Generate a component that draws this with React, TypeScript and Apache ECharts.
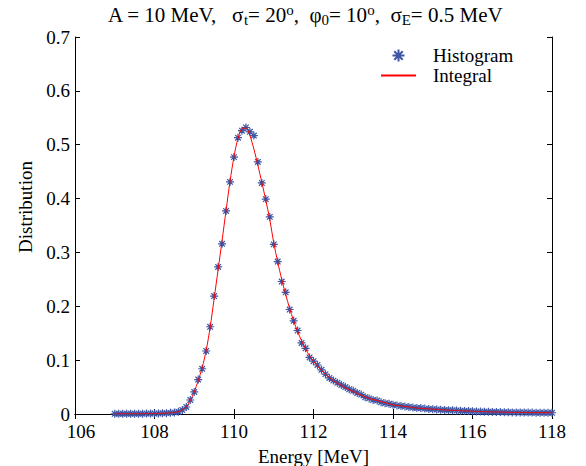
import React, { useEffect, useRef } from 'react';
import * as echarts from 'echarts';

const energies = [
  107.0, 107.1, 107.2, 107.3, 107.4, 107.5, 107.6, 107.7, 107.8, 107.9,
  108.0, 108.1, 108.2, 108.3, 108.4, 108.5, 108.6, 108.7, 108.8, 108.9,
  109.0, 109.1, 109.2, 109.3, 109.4, 109.5, 109.6, 109.7, 109.8, 109.9,
  110.0, 110.1, 110.2, 110.3, 110.4, 110.5, 110.6, 110.7, 110.8, 110.9,
  111.0, 111.1, 111.2, 111.3, 111.4, 111.5, 111.6, 111.7, 111.8, 111.9,
  112.0, 112.1, 112.2, 112.3, 112.4, 112.5, 112.6, 112.7, 112.8, 112.9,
  113.0, 113.1, 113.2, 113.3, 113.4, 113.5, 113.6, 113.7, 113.8, 113.9,
  114.0, 114.1, 114.2, 114.3, 114.4, 114.5, 114.6, 114.7, 114.8, 114.9,
  115.0, 115.1, 115.2, 115.3, 115.4, 115.5, 115.6, 115.7, 115.8, 115.9,
  116.0, 116.1, 116.2, 116.3, 116.4, 116.5, 116.6, 116.7, 116.8, 116.9,
  117.0, 117.1, 117.2, 117.3, 117.4, 117.5, 117.6, 117.7, 117.8, 117.9,
  118.0,
];

const histogram = [
  0.0003, 0.0003, 0.0004, 0.0004, 0.0005, 0.0005, 0.0006, 0.0006, 0.0007, 0.0008,
  0.0009, 0.0011, 0.0013, 0.0016, 0.0021, 0.003, 0.0042, 0.0074, 0.013, 0.026,
  0.041, 0.064, 0.084, 0.117, 0.162, 0.219, 0.273, 0.316, 0.377, 0.431,
  0.477, 0.513, 0.526, 0.532, 0.524, 0.517, 0.468, 0.429, 0.399, 0.366,
  0.315, 0.283, 0.246, 0.226, 0.194, 0.173, 0.155, 0.132, 0.122, 0.105,
  0.098, 0.091, 0.082, 0.074, 0.067, 0.062, 0.058, 0.054, 0.05, 0.046,
  0.043, 0.039, 0.036, 0.031, 0.029, 0.026, 0.025, 0.022, 0.02, 0.019,
  0.017, 0.016, 0.015, 0.014, 0.013, 0.012, 0.011, 0.011, 0.01, 0.0095,
  0.009, 0.0085, 0.008, 0.0075, 0.007, 0.0068, 0.0065, 0.006, 0.0058, 0.0055,
  0.005, 0.0048, 0.0045, 0.0043, 0.004, 0.0038, 0.0036, 0.0035, 0.0033, 0.0032,
  0.003, 0.003, 0.0029, 0.0028, 0.0027, 0.0026, 0.0025, 0.0025, 0.0024, 0.0023,
  0.0023,
];

const integral = [
  0.0003, 0.0003, 0.0004, 0.0004, 0.0005, 0.0005, 0.0006, 0.0006, 0.0007, 0.0008,
  0.0009, 0.0011, 0.0013, 0.0016, 0.0022, 0.0031, 0.0045, 0.0075, 0.0135, 0.025,
  0.041, 0.062, 0.086, 0.118, 0.161, 0.214, 0.268, 0.322, 0.378, 0.432,
  0.478, 0.512, 0.53, 0.531, 0.517, 0.492, 0.462, 0.43, 0.397, 0.361,
  0.318, 0.282, 0.25, 0.222, 0.196, 0.173, 0.153, 0.136, 0.121, 0.108,
  0.098, 0.089, 0.081, 0.074, 0.068, 0.062, 0.057, 0.053, 0.049, 0.045,
  0.042, 0.038, 0.035, 0.032, 0.029, 0.027, 0.025, 0.023, 0.021, 0.019,
  0.017, 0.016, 0.015, 0.014, 0.013, 0.012, 0.011, 0.0105, 0.01, 0.0095,
  0.009, 0.0085, 0.008, 0.0076, 0.0072, 0.0068, 0.0065, 0.0061, 0.0058, 0.0055,
  0.0052, 0.0049, 0.0046, 0.0044, 0.0041, 0.0039, 0.0037, 0.0035, 0.0034, 0.0032,
  0.0031, 0.003, 0.0029, 0.0028, 0.0027, 0.0026, 0.0025, 0.0025, 0.0024, 0.0023,
  0.0023,
];

const seriesNames = ['Histogram', 'Integral'];
const seriesColors = ['#3d57a5', '#ff0000'];
const xRange = { min: 106, max: 118, interval: 2 };
const yRange = { min: 0, max: 0.7, interval: 0.1 };

export default function App() {
  const ref = useRef<HTMLDivElement>(null);
  useEffect(() => {
    if (!ref.current) return;
    const chart = echarts.init(ref.current, null, { renderer: 'svg' });
    const font = "'Liberation Serif', 'Times New Roman', serif";
    const star = 'path://M4,0L4,8M0,4L8,4M1.2,1.2L6.8,6.8M1.2,6.8L6.8,1.2';
    const nb = '\u00a0';
    const axisLine = { show: true, lineStyle: { color: '#000', width: 1 } };
    const tick = { show: true, inside: true, length: 5, lineStyle: { color: '#000' } };
    const label = { fontFamily: font, fontSize: 19, color: '#000', lineHeight: 14 };
    chart.setOption({
      animation: false,
      backgroundColor: '#fff',
      color: seriesColors,
      grid: { left: 75, right: 34, top: 37, bottom: 52, outerBoundsMode: 'none', containLabel: false },
      graphic: [
        {
          type: 'text',
          x: 305,
          y: 15,
          style: {
            text: `A = 10 MeV,${nb}${nb}${nb}σ{sub|t}= 20{sup|o},${nb}${nb}φ{sub|0}= 10{sup|o},${nb}${nb}σ{sub|E}= 0.5 MeV`,
            fontFamily: font,
            fontSize: 21,
            lineHeight: 26,
            fill: '#000',
            align: 'center',
            verticalAlign: 'middle',
            rich: {
              sub: { fontFamily: font, fontSize: 15, lineHeight: 15, padding: [10, 0, 0, 0], fill: '#000' },
              sup: { fontFamily: font, fontSize: 15, lineHeight: 15, padding: [0, 0, 10, 0], fill: '#000' },
            },
          },
        },
      ],
      legend: {
        orient: 'vertical',
        left: 375,
        top: 41,
        itemWidth: 35,
        itemHeight: 12,
        itemGap: 1,
        textStyle: { fontFamily: font, fontSize: 19, color: '#000', padding: [0, 0, 0, 12] },
        data: [
          { name: seriesNames[0], icon: star },
          { name: seriesNames[1], itemStyle: { opacity: 0 } },
        ],
      },
      xAxis: [
        {
          type: 'value', ...xRange, position: 'bottom',
          name: 'Energy [MeV]', nameLocation: 'middle', nameGap: 33,
          nameTextStyle: { fontFamily: font, fontSize: 19, color: '#000' },
          axisLine, axisTick: tick, splitLine: { show: false },
          axisLabel: {
            ...label,
            margin: 10,
            formatter: (v: number) => (v === xRange.min ? `{first|${v}}` : `${v}`),
            rich: { first: { fontFamily: font, fontSize: 19, color: '#000', lineHeight: 14, padding: [0, 0, 0, 12] } },
          },
        },
        {
          type: 'value', ...xRange, position: 'top',
          axisLine, axisTick: tick, splitLine: { show: false }, axisLabel: { show: false },
        },
      ],
      yAxis: [
        {
          type: 'value', ...yRange, position: 'left',
          name: 'Distribution', nameLocation: 'middle', nameGap: 40,
          nameTextStyle: { fontFamily: font, fontSize: 19, color: '#000', padding: [0, 0, 0, 37] },
          axisLine, axisTick: tick, splitLine: { show: false },
          axisLabel: { ...label, margin: 5 },
        },
        {
          type: 'value', ...yRange, position: 'right',
          axisLine, axisTick: tick, splitLine: { show: false }, axisLabel: { show: false },
        },
      ],
      series: [
        {
          name: seriesNames[0],
          type: 'scatter',
          color: seriesColors[0],
          data: energies.map((e, i) => [e, histogram[i]]),
          symbol: star,
          symbolSize: 8,
          itemStyle: { color: 'none', borderColor: seriesColors[0], borderWidth: 1.2, opacity: 1 },
          z: 2,
        },
        {
          name: seriesNames[1],
          type: 'line',
          color: seriesColors[1],
          data: energies.map((e, i) => [e, integral[i]]),
          smooth: 0.3,
          symbol: 'none',
          showSymbol: false,
          lineStyle: { color: seriesColors[1], width: 1 },
          z: 3,
        },
      ],
    });
    return () => chart.dispose();
  }, []);
  return <div ref={ref} style={{ position: 'fixed', left: 0, top: 0, width: 586, height: 466 }} />;
}
